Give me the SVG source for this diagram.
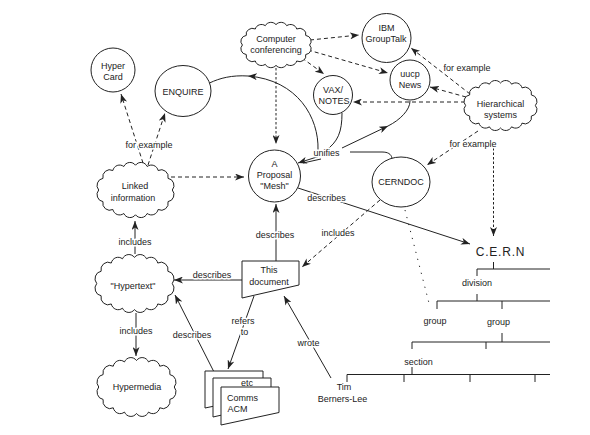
<svg xmlns="http://www.w3.org/2000/svg" width="590" height="435" viewBox="0 0 590 435">
<style>
text{font-family:"Liberation Sans",Arial,sans-serif;font-size:9px;fill:#222;text-anchor:middle}
.s{fill:#fff;stroke:#222;stroke-width:1}
.e{fill:none;stroke:#222;stroke-width:1}
.d{stroke-dasharray:4 3}
.dd{stroke-dasharray:2.5 2}
.dt{stroke-dasharray:1.2 6}
.a{marker-end:url(#ah)}
.l{stroke:#fff;stroke-width:3;stroke-linejoin:round;paint-order:stroke}
.st{text-anchor:start}
</style>
<defs>
<marker id="ah" viewBox="0 0 9 7" refX="9" refY="3.5" markerWidth="9" markerHeight="7" markerUnits="userSpaceOnUse" orient="auto"><path d="M0,0 L9,3.5 L0,7 L2.5,3.5 Z" fill="#222"/></marker>
<path id="cloud" fill="#fff" stroke="#222" stroke-width="1" vector-effect="non-scaling-stroke" d="M32,0 A6,6 0 0 1 28.3,9.85 A6,6 0 0 1 19.7,16.5 A6,6 0 0 1 10.2,19.9 A6,6 0 0 1 0,21 A6,6 0 0 1 -10.2,19.9 A6,6 0 0 1 -19.7,16.5 A6,6 0 0 1 -28.3,9.85 A6,6 0 0 1 -32,0 A6,6 0 0 1 -28.3,-9.85 A6,6 0 0 1 -19.7,-16.5 A6,6 0 0 1 -10.2,-19.9 A6,6 0 0 1 0,-21 A6,6 0 0 1 10.2,-19.9 A6,6 0 0 1 19.7,-16.5 A6,6 0 0 1 28.3,-9.85 A6,6 0 0 1 32,0 Z"/>
</defs>
<rect width="590" height="435" fill="#fff"/>

<g id="connectors">
<path class="e d a" d="M143,163 L121,94"/>
<path class="e d a" d="M148,165 L165,113"/>
<path class="e d a" d="M171,177 L244,177"/>
<path class="e dd a" d="M276,68 L276,144"/>
<path class="e d a" d="M310,40 L359,35"/>
<path class="e d a" d="M308,50 L388,73"/>
<path class="e d a" d="M302,58 L324,74"/>
<path class="e d a" d="M470,94 L411,48"/>
<path class="e d a" d="M466,97 L430,87"/>
<path class="e d a" d="M465,102 L353,102"/>
<path class="e d a" d="M478,131 L427,165"/>
<path class="e dd a" d="M493.5,148 L493.5,236"/>
<path class="e a" d="M320,156 L298,163"/>
<path class="e" d="M321,159 L303,163"/>
<path class="e a" d="M318,150 C319,118 298,80 248,76"/>
<path class="e" d="M248,76 C232,75 220,78 209.5,83"/>
<path class="e" d="M342,113 C342,132 338,142 325,151"/>
<path class="e a" d="M342,148 L388,126"/>
<path class="e" d="M388,126 C400,120 410,110 410,101"/>
<path class="e" d="M350,152 L382,152 C388,152 391,154 392,158"/>
<path class="e a" d="M298,188 L470,244"/>
<path class="e a" d="M276,261 L276,204"/>
<path class="e a" d="M242,280 L174,280"/>
<path class="e d a" d="M380,200 L302,267"/>
<path class="e a" d="M254,296 L228,369"/>
<path class="e a" d="M214,372 L175,295"/>
<path class="e a" d="M331,378 L284,296"/>
<path class="e a" d="M135,254 L135,221"/>
<path class="e a" d="M136,313 L136,356"/>
<path class="e dt" d="M405,210 L430,307"/>
<text class="l" x="149" y="148">for example</text>
<text class="l" x="467" y="71">for example</text>
<text class="l" x="473" y="147">for example</text>
<text class="l" x="326.5" y="156">unifies</text>
<text class="l" x="326.5" y="201">describes</text>
<text class="l" x="338" y="235.5">includes</text>
<text class="l" x="275" y="238">describes</text>
<text class="l" x="212" y="278">describes</text>
<text class="l" x="135" y="245">includes</text>
<text class="l" x="136" y="334">includes</text>
<text class="l" x="192" y="337.5">describes</text>
<text class="l" x="243" y="324">refers</text>
<text class="l" x="244.5" y="335">to</text>
<text class="l" x="308.5" y="346">wrote</text>
</g>

<g id="hypercard"><circle class="s" cx="113" cy="70" r="22"/><text x="113" y="69">Hyper</text><text x="113" y="80">Card</text></g>
<g id="enquire"><ellipse class="s" cx="183" cy="91" rx="28" ry="25.5"/><text x="183" y="95">ENQUIRE</text></g>
<g id="compconf"><use href="#cloud" transform="translate(276,45) scale(1.05,0.97)"/><text x="276" y="42">Computer</text><text x="276" y="52.5">conferencing</text></g>
<g id="linked"><use href="#cloud" transform="translate(135.5,190) scale(1.15,1.18)"/><text x="135" y="189">Linked</text><text x="133" y="201">information</text></g>
<g id="mesh"><circle class="s" cx="274.5" cy="176" r="26"/><text x="274.5" y="167">A</text><text x="274.5" y="177.5">Proposal</text><text x="274.5" y="188.5">"Mesh"</text></g>
<g id="ibm"><circle class="s" cx="386.5" cy="38" r="24.5"/><text x="386.5" y="31">IBM</text><text x="386" y="42">GroupTalk</text></g>
<g id="uucp"><circle class="s" cx="410" cy="80" r="20"/><text x="410" y="77">uucp</text><text x="410" y="88">News</text></g>
<g id="vax"><circle class="s" cx="333" cy="95" r="19.5"/><text x="333" y="93">VAX/</text><text x="334" y="104">NOTES</text></g>
<g id="hier"><use href="#cloud" transform="translate(500.5,105.5) scale(1.09,1.07)"/><text x="500.5" y="107">Hierarchical</text><text x="500.5" y="118">systems</text></g>
<g id="cerndoc"><ellipse class="s" cx="401" cy="182" rx="29" ry="25"/><text x="401" y="185">CERNDOC</text></g>
<g id="doc"><path class="s" d="M242,261 L299,261 L299,285 L242,298 Z"/><text x="269" y="273">This</text><text x="269" y="284.5">document</text></g>
<g id="hypertext"><use href="#cloud" transform="translate(134.5,283.5) scale(1.18,1.24)"/><text x="133" y="288.5">"Hypertext"</text></g>
<g id="hypermedia"><use href="#cloud" transform="translate(136.5,387) scale(1.18,1.26)"/><text x="137" y="389.5">Hypermedia</text></g>
<g id="acm">
<path class="s" d="M205,371 L263,371 L263,396 L205,408 Z"/>
<path class="s" d="M213,378 L271,378 L271,404 L213,417 Z"/>
<path class="s" d="M221,387 L279,387 L279,412.5 L221,425 Z"/>
<text x="247" y="386">etc</text>
<text class="st" x="227" y="401">Comms</text>
<text class="st" x="227.5" y="411.5">ACM</text>
</g>
<g id="cern">
<text x="500.5" y="255.5" style="font-size:12px;letter-spacing:0.8px">C.E.R.N</text>
<path class="e" d="M493.5,262 V269 M477,269 H550 M477,269 V276 M477,294 V301 M437,301 H550 M437,301 V309 M502,301 V309 M502,333 V342 M412,342 H550 M412,342 V349 M486,342 V349 M412,367 V374.5 M347,374.5 H550 M347,374.5 V382 M404,374.5 V382 M470,374.5 V382 M535,374.5 V382"/>
<text x="477" y="285.5">division</text>
<text x="435" y="323.5">group</text>
<text x="498.5" y="324.5">group</text>
<text x="418.5" y="364.5">section</text>
</g>
<g id="tbl"><text x="344" y="390">Tim</text><text x="342.5" y="401.5">Berners-Lee</text></g>
</svg>
